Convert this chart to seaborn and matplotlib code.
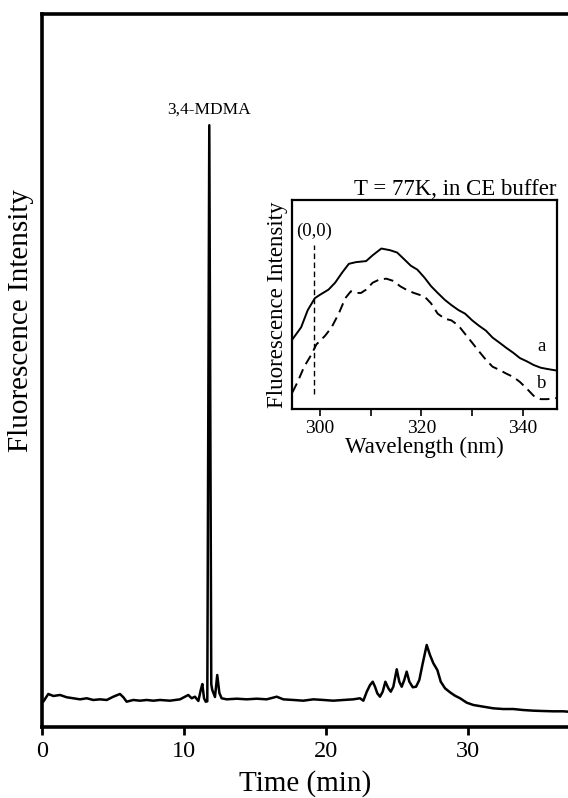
import matplotlib
matplotlib.use("Agg")
import matplotlib.pyplot as plt
import seaborn as sns
import numpy as np
from matplotlib.ticker import MultipleLocator

# ---------------- data ----------------
# main electropherogram (time in min, intensity in arbitrary units)
time_min = [0.09, 0.44, 0.80, 1.27, 1.74, 2.20, 2.68, 3.15, 3.61, 4.08, 4.56, 5.02,
            5.49, 5.73, 5.96, 6.43, 6.90, 7.37, 7.84, 8.31, 9.01, 9.72, 10.07, 10.30,
            10.54, 10.77, 11.01, 11.18, 11.29, 11.41, 11.53, 11.64, 11.78, 11.92, 11.99,
            12.18, 12.34, 12.49, 12.65, 13.01, 13.71, 14.42, 15.12, 15.82, 16.53, 16.99,
            17.70, 18.40, 19.11, 19.82, 20.51, 21.22, 21.92, 22.39, 22.63, 22.87, 23.10,
            23.29, 23.45, 23.61, 23.80, 23.99, 24.18, 24.39, 24.56, 24.74, 24.98, 25.16,
            25.33, 25.51, 25.68, 25.87, 26.11, 26.34, 26.57, 26.81, 27.09, 27.32, 27.56,
            27.84, 28.08, 28.38, 28.73, 29.08, 29.44, 29.91, 30.37, 31.08, 31.78, 32.49,
            33.19, 33.89, 34.60, 35.30, 36.01, 36.71, 37.04]
intensity = [3.55, 4.63, 4.35, 4.49, 4.17, 4.03, 3.88, 4.03, 3.79, 3.88, 3.79, 4.25,
             4.63, 4.17, 3.55, 3.79, 3.69, 3.79, 3.69, 3.79, 3.69, 3.88, 4.25, 4.49,
             4.03, 4.25, 3.65, 5.19, 6.03, 4.03, 3.55, 3.60, 84.4, 6.00, 5.19,
             4.21, 7.29, 4.77, 4.03, 3.88, 3.97, 3.88, 3.97, 3.88, 4.25, 3.88,
             3.79, 3.69, 3.88, 3.79, 3.69, 3.79, 3.88, 4.03, 3.69, 4.95, 5.89,
             6.35, 5.65, 4.73, 4.25, 4.95, 6.35, 5.43, 4.95, 5.65, 8.09, 6.35,
             5.65, 6.59, 7.76, 6.35, 5.57, 5.65, 6.59, 8.93, 11.50, 10.10, 8.93,
             7.99, 6.35, 5.43, 4.87, 4.39, 4.03, 3.41, 3.09, 2.85, 2.62, 2.52,
             2.52, 2.38, 2.29, 2.24, 2.20, 2.20, 2.15]
main_xticks = [0, 10, 20, 30]
peak_label = "3,4-MDMA"
peak_time = 11.78
peak_height = 84.4

# inset spectra (wavelength nm, normalized intensity)
wl_a = [294.6, 296.3, 297.6, 299.0, 300.0, 301.7, 303.0, 304.4, 305.7, 307.1, 309.1,
        310.4, 312.1, 313.8, 315.2, 316.5, 317.9, 319.2, 320.6, 321.9, 323.2, 324.6,
        325.9, 327.3, 328.6, 330.0, 331.3, 332.7, 334.0, 335.4, 336.7, 338.1, 339.4,
        340.8, 342.1, 343.5, 344.8, 346.5]
int_a = [0.333, 0.390, 0.472, 0.529, 0.545, 0.570, 0.603, 0.652, 0.693, 0.701, 0.706,
         0.734, 0.766, 0.758, 0.747, 0.717, 0.684, 0.665, 0.627, 0.586, 0.554, 0.521,
         0.496, 0.472, 0.455, 0.423, 0.398, 0.374, 0.341, 0.316, 0.292, 0.268, 0.243,
         0.227, 0.210, 0.197, 0.191, 0.184]
wl_b = [294.6, 295.6, 296.9, 298.3, 299.3, 300.0, 301.0, 302.3, 303.7, 305.0, 306.1,
        307.1, 308.1, 309.1, 310.4, 311.8, 313.1, 314.5, 315.8, 317.2, 318.5, 320.6,
        321.9, 323.2, 324.6, 325.9, 327.3, 328.6, 330.0, 331.3, 332.7, 334.0, 335.4,
        336.7, 338.1, 339.4, 340.8, 342.1, 343.5, 344.8, 346.5]
int_b = [0.080, 0.129, 0.202, 0.259, 0.308, 0.325, 0.349, 0.390, 0.455, 0.529, 0.562,
         0.554, 0.554, 0.570, 0.603, 0.619, 0.622, 0.611, 0.586, 0.567, 0.554, 0.537,
         0.504, 0.455, 0.431, 0.423, 0.398, 0.358, 0.316, 0.276, 0.235, 0.202, 0.186,
         0.169, 0.153, 0.129, 0.096, 0.063, 0.047, 0.047, 0.052]
origin_wl = 298.8
origin_span = [0.072, 0.782]
inset_xticks = [300, 320, 340]

# ---------------- style ----------------
sns.set_style("white")
plt.rcParams['font.family'] = ['Liberation Serif', 'DejaVu Serif']
for key in ['text.color', 'axes.labelcolor', 'xtick.color', 'ytick.color',
            'axes.edgecolor']:
    plt.rcParams[key] = 'black'

fig = plt.figure(figsize=(5.68, 7.98), dpi=100)

# main axes
ax = fig.add_axes([42/568, 1-727/798, 1-42/568, (727-14)/798])
sns.lineplot(x=time_min, y=intensity, ax=ax, color='black', lw=1.8,
             estimator=None, sort=False)
ax.set_xlim(0, 37.04)
ax.set_ylim(0, 100)
ax.set_xticks(main_xticks)
ax.set_xticklabels([str(t) for t in main_xticks])
ax.set_yticks([])
ax.tick_params(axis='x', direction='out', length=6, width=2, labelsize=17.5,
               pad=4, bottom=True, colors='black')
for s in ['left', 'bottom', 'top']:
    ax.spines[s].set_linewidth(2.6)
    ax.spines[s].set_color('black')
ax.spines['right'].set_visible(False)
ax.set_xlabel("Time (min)", fontsize=21, labelpad=6, color='black')
ax.set_ylabel("Fluorescence Intensity", fontsize=21, color='black')
ax.yaxis.set_label_coords(-0.016, 0.57)
ax.text(peak_time, peak_height + 1.0, peak_label, ha='center', va='bottom',
        fontsize=12.5, color='black')

# inset axes
ia = fig.add_axes([292/568, 1-409/798, (557-292)/568, (409-199.5)/798])
sns.lineplot(x=wl_a, y=int_a, ax=ia, color='black', lw=1.4,
             estimator=None, sort=False)
sns.lineplot(x=wl_b, y=int_b, ax=ia, color='black', lw=1.4,
             estimator=None, sort=False, linestyle=(0, (5, 3)))
ia.plot([origin_wl, origin_wl], origin_span, color='black', lw=1.0,
        linestyle=(0, (4, 2.5)))
ia.set_xlim(294.5, 346.7)
ia.set_ylim(0, 1)
ia.set_xticks(inset_xticks)
ia.xaxis.set_minor_locator(MultipleLocator(10))
ia.set_yticks([])
ia.tick_params(axis='x', which='both', direction='out', length=5, width=1.2,
               labelsize=14, pad=3, bottom=True, colors='black')
for s in ia.spines.values():
    s.set_linewidth(1.6)
    s.set_color('black')
ia.set_xlabel("Wavelength (nm)", fontsize=16.5, labelpad=0, color='black')
ia.set_ylabel("Fluorescence Intensity", fontsize=16.5, labelpad=3, color='black')
ia.set_title("T = 77K, in CE buffer", fontsize=16.5, loc='right', pad=2,
             color='black')
ia.text(origin_wl, 0.85, "(0,0)", ha='center', va='center', fontsize=13.5)
ia.text(343.6, 0.30, "a", ha='center', va='center', fontsize=13.5)
ia.text(343.6, 0.12, "b", ha='center', va='center', fontsize=13.5)

fig.savefig("out.png", dpi=100)
